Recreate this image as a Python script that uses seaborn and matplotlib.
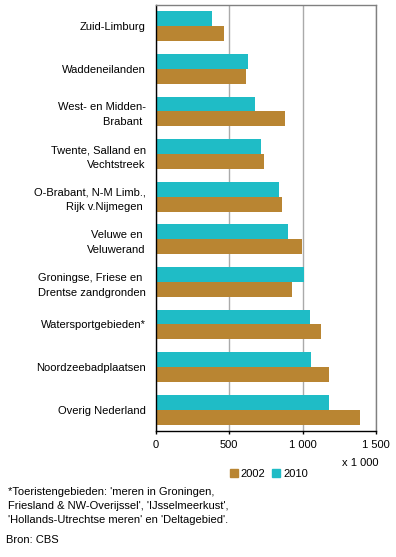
import pandas as pd
import seaborn as sns
import matplotlib.pyplot as plt
from matplotlib.patches import Patch

# gebieden (van boven naar beneden)
gebieden = ["Zuid-Limburg", "Waddeneilanden", "West- en Midden-\nBrabant ",
            "Twente, Salland en\nVechtstreek", "O-Brabant, N-M Limb.,\nRijk v.Nijmegen ",
            "Veluwe en \nVeluwerand", "Groningse, Friese en \nDrentse zandgronden",
            "Watersportgebieden*", "Noordzeebadplaatsen", "Overig Nederland"]
waarden_2010 = [385, 629, 676, 717, 839, 900, 1009, 1050, 1057, 1179]
waarden_2002 = [466, 615, 880, 738, 860, 995, 928, 1124, 1179, 1389]
jaren = ["2010", "2002"]
x_ticks = [0, 500, 1000, 1500]
x_ticklabels = ["0", "500", "1 000", "1 500"]

kleur_2002 = "#B98532"
kleur_2010 = "#1FBCC6"

df = pd.DataFrame({
    "gebied": gebieden * 2,
    "jaar": [jaren[0]] * len(gebieden) + [jaren[1]] * len(gebieden),
    "waarde": waarden_2010 + waarden_2002,
})

sns.set_style("white")
plt.rcParams["font.family"] = ["Liberation Sans", "DejaVu Sans"]
plt.rcParams["font.size"] = 8
plt.rcParams["text.color"] = "black"
plt.rcParams["xtick.color"] = "black"
plt.rcParams["ytick.color"] = "black"

fig = plt.figure(figsize=(3.96, 5.57), dpi=100)
ax = fig.add_axes([155.5 / 396, 1 - 431 / 557, (376 - 155.5) / 396, (431 - 5) / 557])

sns.barplot(data=df, x="waarde", y="gebied", hue="jaar", hue_order=jaren,
            palette={"2010": kleur_2010, "2002": kleur_2002},
            width=0.7, linewidth=0, saturation=1, ax=ax, legend=False)

ax.set_xlim(0, 1500)
ax.set_xticks(x_ticks)
ax.set_xticklabels(x_ticklabels)
ax.set_xlabel("")
ax.set_ylabel("")
ax.xaxis.grid(True, color="#AAAAAA", linewidth=1)
ax.set_axisbelow(True)
ax.tick_params(axis="x", bottom=True, length=2.5, width=1, color="black", labelcolor="black", pad=4, labelsize=8)
ax.tick_params(axis="y", left=False, length=0, pad=7, labelcolor="black", labelsize=8)
for lbl in ax.get_yticklabels():
    lbl.set_linespacing(1.6)

ax.spines["left"].set_color("black")
ax.spines["bottom"].set_color("black")
ax.spines["top"].set_color("#808080")
ax.spines["right"].set_color("#808080")
for s in ax.spines.values():
    s.set_linewidth(1)

fig.text(379 / 396, 1 - 463 / 557, "x 1 000", ha="right", va="center", fontsize=8)

handles = [Patch(color=kleur_2002, label="2002"), Patch(color=kleur_2010, label="2010")]
fig.legend(handles=handles, loc="center", bbox_to_anchor=(269 / 396, 1 - 474 / 557),
           ncol=2, frameon=False, fontsize=8, handlelength=0.7, handleheight=0.7,
           handletextpad=0.3, columnspacing=0.6, borderpad=0)

voetnoot = ("*Toeristengebieden: 'meren in Groningen,\n"
            "Friesland & NW-Overijssel', 'IJsselmeerkust',\n"
            "'Hollands-Utrechtse meren' en 'Deltagebied'.")
fig.text(8 / 396, 1 - 487 / 557, voetnoot, ha="left", va="top", fontsize=8, linespacing=1.5)
fig.text(6 / 396, 1 - 540 / 557, "Bron: CBS", ha="left", va="center", fontsize=8)

fig.savefig("out.png", dpi=100)
